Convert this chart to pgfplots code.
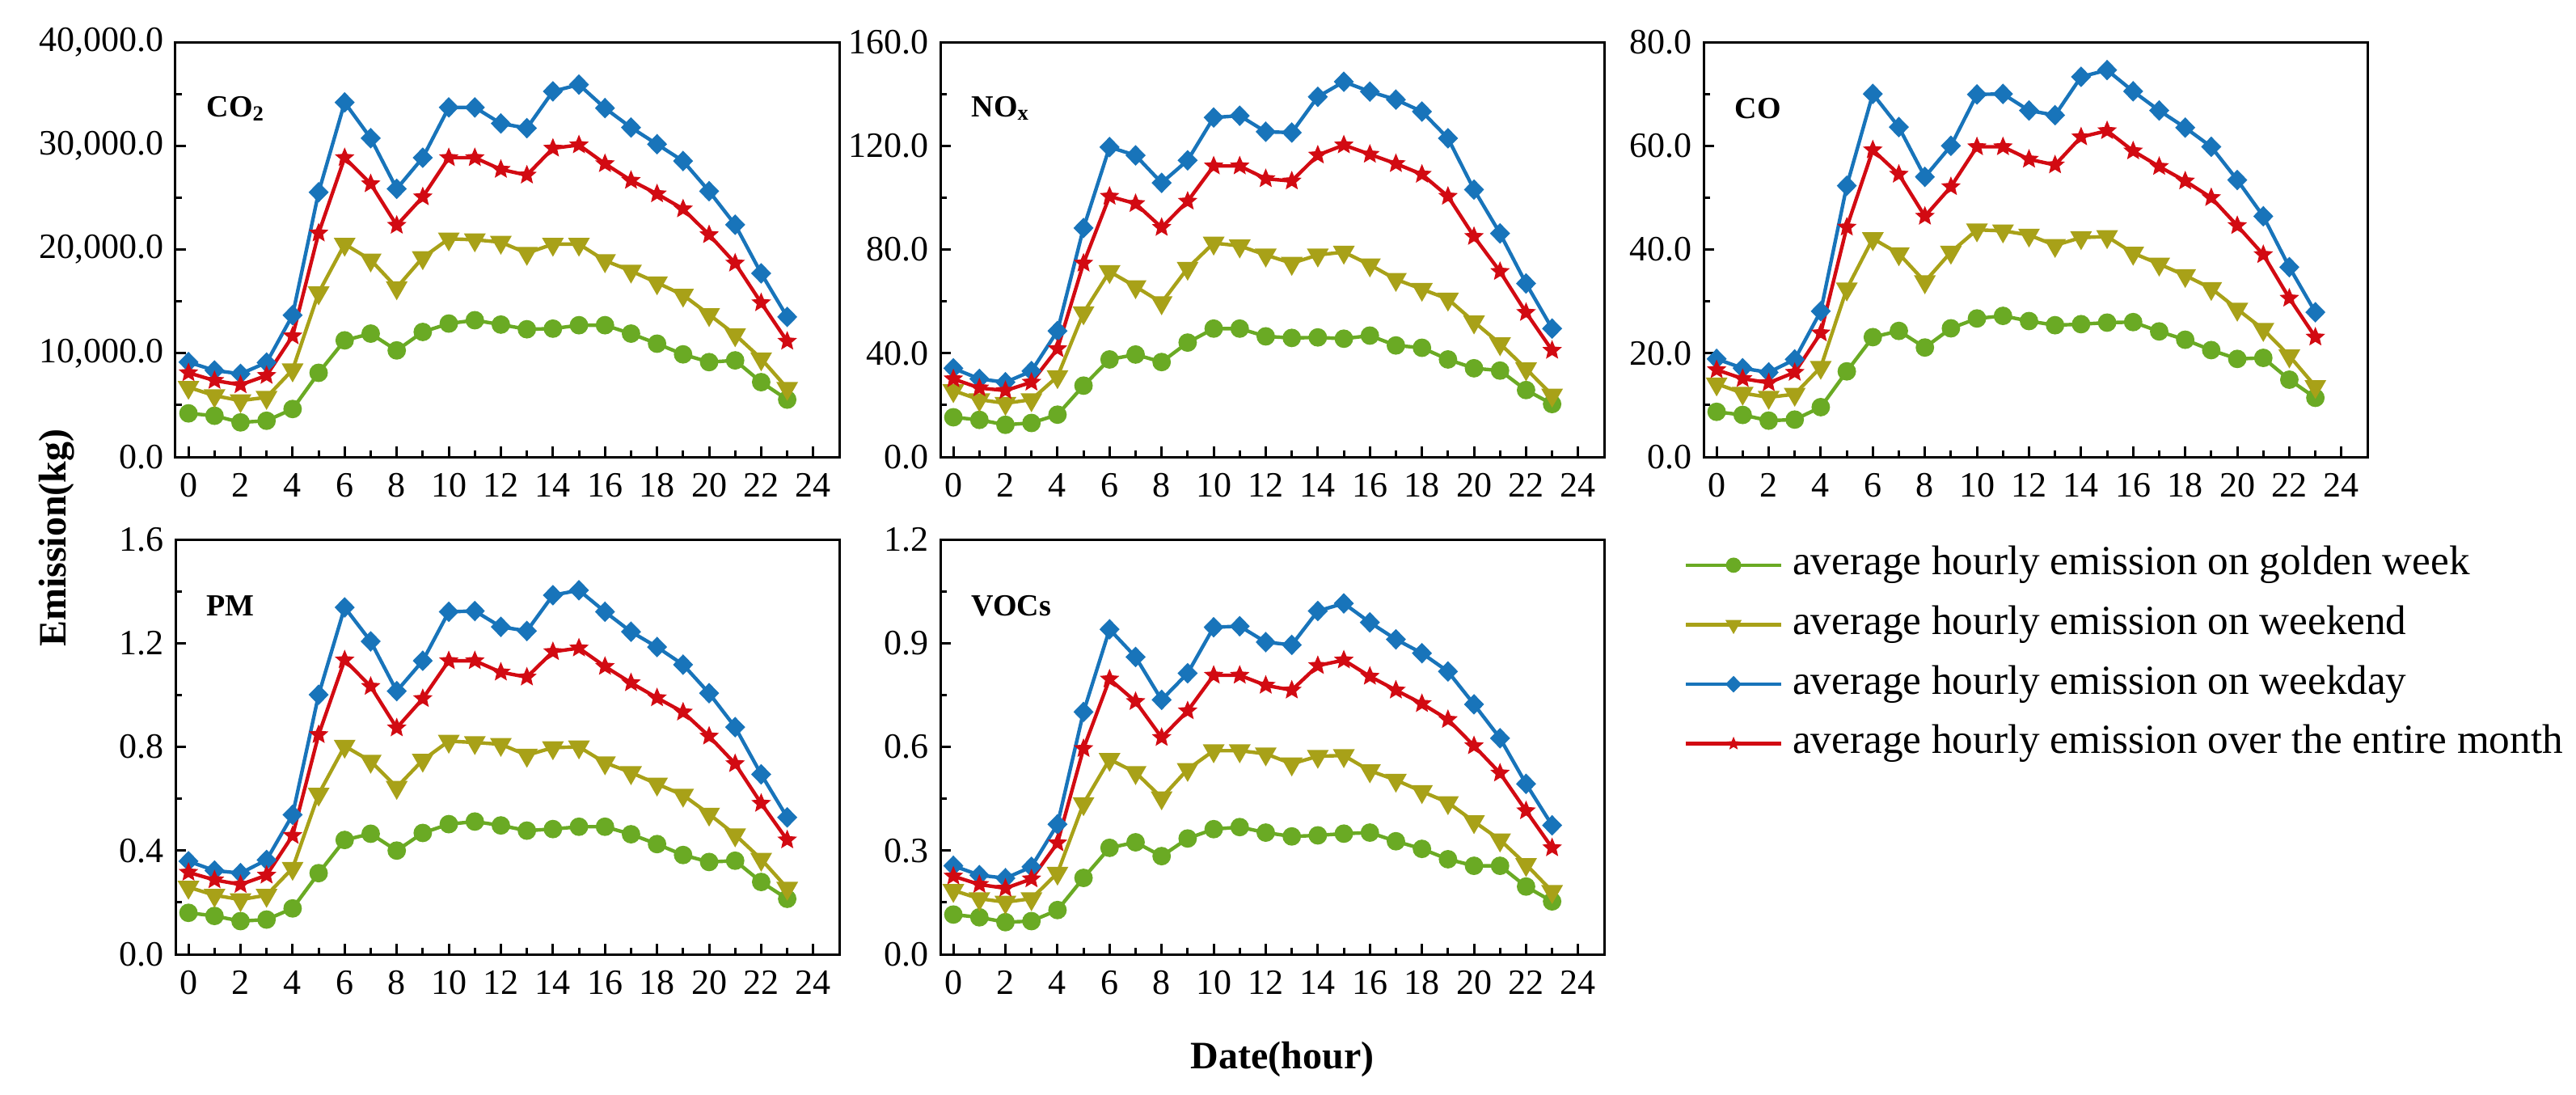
\documentclass[border=0pt]{standalone}
\usepackage{fontspec}
\setmainfont{Liberation Serif}
\usepackage{pgfplots}
\usepackage{pgfplotstable}
\pgfplotsset{compat=1.18}

\definecolor{cgreen}{RGB}{106,170,36}
\definecolor{colive}{RGB}{168,161,24}
\definecolor{cblue}{RGB}{24,116,186}
\definecolor{cred}{RGB}{210,10,18}

\pgfdeclareplotmark{fstar}{%
  \pgfpathmoveto{\pgfpointpolar{90}{\pgfplotmarksize}}%
  \pgfpathlineto{\pgfpointpolar{126}{0.45\pgfplotmarksize}}%
  \pgfpathlineto{\pgfpointpolar{162}{\pgfplotmarksize}}%
  \pgfpathlineto{\pgfpointpolar{198}{0.45\pgfplotmarksize}}%
  \pgfpathlineto{\pgfpointpolar{234}{\pgfplotmarksize}}%
  \pgfpathlineto{\pgfpointpolar{270}{0.45\pgfplotmarksize}}%
  \pgfpathlineto{\pgfpointpolar{306}{\pgfplotmarksize}}%
  \pgfpathlineto{\pgfpointpolar{342}{0.45\pgfplotmarksize}}%
  \pgfpathlineto{\pgfpointpolar{18}{\pgfplotmarksize}}%
  \pgfpathlineto{\pgfpointpolar{54}{0.45\pgfplotmarksize}}%
  \pgfpathclose\pgfusepathqfillstroke}

\pgfplotstableread{
h g w d m
0 4200 6720 9140 8110
1 3970 5910 8340 7370
2 3330 5430 8010 6950
3 3490 5750 9100 7850
4 4620 8400 13670 11660
5 8110 15830 25520 21580
6 11240 20520 34180 28850
7 11890 19000 30730 26330
8 10270 16320 25850 22330
9 12050 19220 28850 25070
10 12860 21030 33700 28850
11 13180 20940 33700 28850
12 12760 20710 32150 27720
13 12310 19640 31700 27170
14 12370 20520 35250 29760
15 12700 20520 35900 30080
16 12700 18930 33630 28270
17 11890 17930 31760 26660
18 10920 16800 30150 25360
19 9890 15610 28530 23910
20 9140 13730 25620 21420
21 9310 11790 22390 18680
22 7210 9470 17700 14860
23 5530 6620 13500 11150
}\tabCOtwo

\pgfplotstableread{
h g w d m
0 15.3 25.6 34.2 30.1
1 14.3 22.1 30.1 26.6
2 12.4 20.7 28.8 25.6
3 13.1 22.1 33.1 28.8
4 16.3 31.0 48.6 41.7
5 27.5 55.6 88.3 74.7
6 37.6 71.5 119.5 100.5
7 39.5 65.7 116.3 97.7
8 36.6 59.5 105.7 88.5
9 44.1 72.8 114.4 98.6
10 49.5 82.5 130.9 112.2
11 49.5 81.4 131.6 112.2
12 46.5 77.9 125.4 107.3
13 45.9 74.7 125.1 106.4
14 46.1 77.9 138.9 116.4
15 45.6 79.0 144.7 120.3
16 46.8 74.1 140.9 116.7
17 43.0 68.5 137.8 113.1
18 42.1 64.7 133.2 109.0
19 37.6 60.9 122.9 100.5
20 34.2 52.1 103.1 85.0
21 33.3 43.7 86.2 71.5
22 25.8 34.0 66.9 55.7
23 20.4 23.9 49.5 41.1
}\tabNOx

\pgfplotstableread{
h g w d m
0 8.7 14.1 18.9 16.8
1 8.1 12.3 17.1 15.1
2 7.0 11.5 16.3 14.3
3 7.2 12.1 18.8 16.3
4 9.6 17.3 28.1 23.9
5 16.5 32.4 52.3 44.3
6 23.1 42.1 70.0 59.2
7 24.3 39.2 63.6 54.5
8 21.1 33.8 54.0 46.4
9 24.8 39.5 60.0 52.1
10 26.7 43.8 69.9 59.8
11 27.2 43.6 70.0 59.8
12 26.2 42.8 66.8 57.4
13 25.4 40.8 65.9 56.3
14 25.6 42.3 73.3 61.7
15 25.9 42.5 74.6 62.9
16 26.0 39.3 70.5 59.0
17 24.2 37.2 66.8 56.0
18 22.6 35.0 63.5 53.2
19 20.6 32.5 59.8 50.0
20 18.9 28.5 53.4 44.6
21 19.1 24.6 46.4 39.0
22 14.9 19.5 36.6 30.6
23 11.4 13.6 27.9 23.1
}\tabCO

\pgfplotstableread{
h g w d m
0 0.160 0.259 0.359 0.316
1 0.148 0.228 0.323 0.287
2 0.128 0.211 0.313 0.269
3 0.134 0.228 0.364 0.305
4 0.177 0.332 0.538 0.458
5 0.313 0.618 1.001 0.847
6 0.441 0.803 1.338 1.135
7 0.465 0.745 1.207 1.033
8 0.400 0.644 1.015 0.873
9 0.468 0.749 1.132 0.986
10 0.502 0.822 1.321 1.132
11 0.512 0.817 1.324 1.132
12 0.497 0.810 1.263 1.088
13 0.477 0.768 1.247 1.069
14 0.483 0.797 1.385 1.167
15 0.492 0.800 1.404 1.181
16 0.492 0.739 1.321 1.110
17 0.463 0.701 1.244 1.047
18 0.425 0.657 1.185 0.989
19 0.383 0.614 1.117 0.934
20 0.356 0.541 1.007 0.841
21 0.361 0.461 0.876 0.735
22 0.279 0.367 0.694 0.582
23 0.214 0.255 0.528 0.441
}\tabPM

\pgfplotstableread{
h g w d m
0 0.115 0.185 0.256 0.226
1 0.107 0.161 0.229 0.202
2 0.093 0.151 0.220 0.191
3 0.096 0.161 0.253 0.218
4 0.128 0.235 0.376 0.322
5 0.221 0.436 0.701 0.595
6 0.308 0.564 0.940 0.796
7 0.324 0.526 0.860 0.731
8 0.284 0.453 0.736 0.627
9 0.335 0.535 0.813 0.704
10 0.362 0.589 0.946 0.807
11 0.368 0.589 0.949 0.807
12 0.352 0.580 0.903 0.778
13 0.341 0.551 0.895 0.764
14 0.344 0.573 0.993 0.835
15 0.349 0.575 1.015 0.851
16 0.352 0.531 0.960 0.804
17 0.327 0.504 0.911 0.764
18 0.305 0.471 0.871 0.725
19 0.275 0.439 0.818 0.679
20 0.256 0.384 0.723 0.603
21 0.256 0.331 0.625 0.524
22 0.196 0.260 0.493 0.415
23 0.153 0.182 0.373 0.308
}\tabVOC

\tikzset{plab/.style={anchor=west, inner sep=0pt, font=\bfseries\fontsize{9.5}{10}\selectfont}}

\pgfplotsset{
  panel/.style={
    scale only axis, width=205.25pt, height=128.25pt,
    anchor=north west,
    xmin=-0.5, xmax=25, ymin=0,
    xtick={0,2,...,24}, minor x tick num=1, minor y tick num=1,
    tick pos=left, tick align=inside,
    major tick length=3.25pt, minor tick length=2pt,
    axis line style={line width=0.75pt},
    tick style={line width=0.75pt, black},
    tick label style={font=\fontsize{11}{13}\selectfont},
    xticklabel style={yshift=-1.5pt},
    /pgf/number format/assume math mode=true,
    yticklabel style={/pgf/number format/.cd, fixed, fixed zerofill, precision=1, 1000 sep={,}},
    scaled y ticks=false,
  },
  sg/.style={cgreen, line width=1.1pt, mark=*, mark size=2.3pt, mark options={solid, fill=cgreen}},
  sw/.style={colive, line width=1.1pt, mark=triangle*, mark size=2.8pt, mark options={solid, fill=colive, rotate=180}},
  sd/.style={cblue, line width=1.1pt, mark=diamond*, mark size=2.4pt, mark options={solid, fill=cblue, xscale=1.3}},
  sm/.style={cred, line width=1.1pt, mark=fstar, mark size=2.8pt, mark options={solid, fill=cred, line width=0.3pt}},
}

\begin{document}
\begin{tikzpicture}
\useasboundingbox (0,0) rectangle (796.5pt,-338.25pt);

% CO2
\begin{axis}[panel, at={(54.25pt,-13pt)}, ymax=40000, ytick={0,10000,20000,30000,40000}]
\addplot[sg] table[x=h,y=g]{\tabCOtwo};
\addplot[sw] table[x=h,y=w]{\tabCOtwo};
\addplot[sd] table[x=h,y=d]{\tabCOtwo};
\addplot[sm] table[x=h,y=m]{\tabCOtwo};
\node[plab] at (rel axis cs:0.046,0.84) {CO\textsubscript{2}};
\end{axis}

% NOx
\begin{axis}[panel, at={(290.75pt,-13pt)}, ymax=160, ytick={0,40,80,120,160}]
\addplot[sg] table[x=h,y=g]{\tabNOx};
\addplot[sw] table[x=h,y=w]{\tabNOx};
\addplot[sd] table[x=h,y=d]{\tabNOx};
\addplot[sm] table[x=h,y=m]{\tabNOx};
\node[plab] at (rel axis cs:0.046,0.84) {NO\textsubscript{x}};
\end{axis}

% CO
\begin{axis}[panel, at={(526.75pt,-13pt)}, ymax=80, ytick={0,20,40,60,80}]
\addplot[sg] table[x=h,y=g]{\tabCO};
\addplot[sw] table[x=h,y=w]{\tabCO};
\addplot[sd] table[x=h,y=d]{\tabCO};
\addplot[sm] table[x=h,y=m]{\tabCO};
\node[plab] at (rel axis cs:0.046,0.84) {CO};
\end{axis}

% PM
\begin{axis}[panel, at={(54.25pt,-166.75pt)}, ymax=1.6, ytick={0,0.4,0.8,1.2,1.6}]
\addplot[sg] table[x=h,y=g]{\tabPM};
\addplot[sw] table[x=h,y=w]{\tabPM};
\addplot[sd] table[x=h,y=d]{\tabPM};
\addplot[sm] table[x=h,y=m]{\tabPM};
\node[plab] at (rel axis cs:0.046,0.84) {PM};
\end{axis}

% VOCs
\begin{axis}[panel, at={(290.75pt,-166.75pt)}, ymax=1.2, ytick={0,0.3,0.6,0.9,1.2},
  legend cell align=left,
  legend style={at={(1.1194,0.7227)}, anchor=west, draw=none, fill=none, inner sep=0pt,
    row sep=6.4pt, font=\fontsize{12.8}{15}\selectfont,
    nodes={inner sep=0pt, text height=9pt, text depth=3pt},
    /tikz/every odd column/.style={column sep=3pt}},
  legend image code/.code={\draw[mark repeat=2,mark phase=2,#1,mark size=1.8pt] plot coordinates {(0pt,0pt)(14.75pt,0pt)(29.5pt,0pt)};}]
\addplot[sg] table[x=h,y=g]{\tabVOC};
\addlegendentry{average hourly emission on golden week}
\addplot[sw] table[x=h,y=w]{\tabVOC};
\addlegendentry{average hourly emission on weekend}
\addplot[sd] table[x=h,y=d]{\tabVOC};
\addlegendentry{average hourly emission on weekday}
\addplot[sm] table[x=h,y=m]{\tabVOC};
\addlegendentry{average hourly emission over the entire month}
\node[plab] at (rel axis cs:0.046,0.84) {VOCs};
\end{axis}

\node[rotate=90, font=\bfseries\fontsize{12}{14}\selectfont] at (17.5pt,-166.25pt) {Emission(kg)};
\node[font=\bfseries\fontsize{12}{14}\selectfont] at (396.5pt,-327.5pt) {Date(hour)};
\end{tikzpicture}
\end{document}
